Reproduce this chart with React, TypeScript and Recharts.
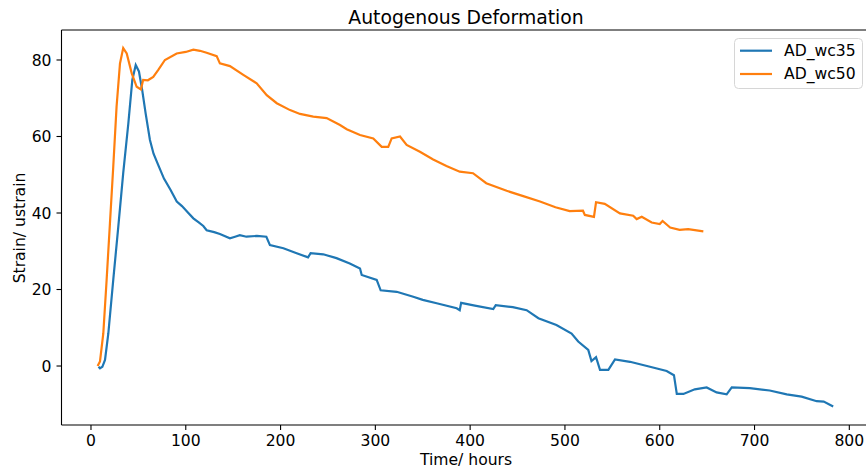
import { Legend, Line, LineChart, ReferenceLine, XAxis, YAxis } from "recharts";

const FONT = "DejaVu Sans, Verdana, sans-serif";
const BLUE = "#1f77b4";
const ORANGE = "#ff7f0e";

const xTicks = [0, 100, 200, 300, 400, 500, 600, 700, 800];
const yTicks = [0, 20, 40, 60, 80];

// w/c 0.35 mix
const wc35Hours = [
  8, 9.5, 12, 14.8, 18.3, 23.5, 28.8, 34, 39.4, 43.6, 47.2, 50.6, 54, 57.7, 62.2, 66, 71, 77,
  84, 90.5, 96, 102, 108, 114, 118.5, 122, 130, 136, 146.6, 152, 157, 164, 175, 185, 188.8,
  203, 217, 229, 231.7, 245, 259, 273, 283.8, 285.6, 301.4, 305.6, 322.5, 340, 350, 364.7,
  385.8, 389, 390.5, 405, 424.4, 427, 445, 459.6, 472, 491, 507, 514, 524.6, 528, 532.8, 537,
  545.8, 552.8, 568.6, 589.7, 607.3, 615, 618, 625, 637, 649.5, 660, 670.6, 676, 695, 716, 734,
  749.7, 765.6, 773, 783,
];
const wc35Strain = [
  -0.2, -0.6, -0.2, 1.6, 8.5, 22.5, 36.4, 50.4, 63.4, 74.8, 78.7, 77, 72.2, 66, 59.1, 55.5, 52.5,
  49, 46, 43, 41.8, 40.2, 38.6, 37.5, 36.6, 35.5, 35, 34.5, 33.4, 33.8, 34.2, 33.8, 34, 33.8,
  31.6, 30.8, 29.5, 28.4, 29.5, 29.2, 28.2, 26.8, 25.5, 23.8, 22.5, 19.8, 19.4, 18.1, 17.3, 16.4,
  15.1, 14.6, 16.5, 15.8, 14.9, 15.9, 15.4, 14.6, 12.5, 10.7, 8.5, 6.4, 4.2, 1.3, 2.3, -1, -1,
  1.7, 1.1, -0.2, -1.3, -2.4, -7.3, -7.3, -6.1, -5.6, -6.9, -7.4, -5.6, -5.8, -6.4, -7.4, -8,
  -9.2, -9.3, -10.6,
];

// w/c 0.50 mix
const wc50Hours = [
  7, 9.5, 13, 16.5, 20, 23.5, 27, 30.6, 34, 37.7, 43, 48.2, 52.7, 55, 60, 65.7, 71, 78, 90.4,
  100, 108, 115, 122, 132.6, 136, 146.6, 160.7, 174.8, 185.4, 196, 210, 220.5, 234.5, 248.6,
  262.7, 269.8, 283.8, 297.8, 306.7, 313.6, 317.2, 326, 333, 347, 361, 375, 389, 403, 417,
  438.5, 456, 473.7, 490, 505, 519, 521, 530.6, 532.8, 542, 558, 572, 575.7, 581, 591.5, 600,
  603, 611, 621, 630, 646,
];
const wc50Strain = [
  0, 1.2, 8.5, 22.5, 37.3, 52.1, 67.8, 79.1, 83.1, 81.7, 76.5, 73, 72.3, 74.8, 74.7, 75.6, 77.4,
  80, 81.7, 82.1, 82.7, 82.4, 81.9, 81, 79.1, 78.4, 76.1, 73.9, 70.8, 68.7, 66.9, 65.9, 65.2,
  64.8, 63, 61.9, 60.4, 59.5, 57.3, 57.3, 59.5, 60, 57.8, 56, 54, 52.3, 50.8, 50.4, 47.8, 45.8,
  44.4, 43, 41.5, 40.5, 40.6, 39.5, 39, 42.8, 42.4, 39.9, 39.3, 38.4, 39, 37.5, 37.1, 37.9, 36.2,
  35.6, 35.8, 35.2,
];

const toPoints = (xs: number[], ys: number[]) => xs.map((x, i) => ({ x, y: ys[i] }));
const wc35 = toPoints(wc35Hours, wc35Strain);
const wc50 = toPoints(wc50Hours, wc50Strain);

const X_DOMAIN: [number, number] = [-31.1, 817.6];
const Y_DOMAIN: [number, number] = [-15.42, 87.84];

const LABEL_SIZE = 15.6;
const tickStyle = { fill: "#000", fontSize: LABEL_SIZE, fontFamily: FONT };

function LegendBox() {
  const rows = [
    { name: "AD_wc35", color: BLUE },
    { name: "AD_wc50", color: ORANGE },
  ];
  return (
    <svg width={130} height={52} style={{ display: "block" }}>
      <rect x={0.5} y={0.5} width={128} height={50} rx={4} fill="#fff" stroke="#d6d6d6" />
      {rows.map((r, i) => (
        <g key={r.name}>
          <line x1={6} x2={38} y1={12.7 + i * 23.3} y2={12.7 + i * 23.3} stroke={r.color} strokeWidth={2.2} />
          <text x={50} y={17.8 + i * 23.3} fontSize={LABEL_SIZE} fontFamily={FONT} fill="#000">
            {r.name}
          </text>
        </g>
      ))}
    </svg>
  );
}

export default function App() {
  return (
    <div style={{ position: "absolute", left: 0, top: 0, fontFamily: FONT, background: "#fff" }}>
      <LineChart width={866} height={473} margin={{ top: 30, right: 0, bottom: 0, left: 0 }}>
        <XAxis
          type="number"
          dataKey="x"
          domain={X_DOMAIN}
          ticks={xTicks}
          allowDataOverflow
          height={48}
          stroke="#000"
          strokeWidth={1.1}
          tickSize={5}
          tickMargin={5}
          tick={tickStyle}
          label={{
            content: () => (
              <text x={466} y={465} textAnchor="middle" fontSize={LABEL_SIZE} fontFamily={FONT} fill="#000">
                Time/ hours
              </text>
            ),
          }}
        />
        <YAxis
          type="number"
          dataKey="y"
          domain={Y_DOMAIN}
          ticks={yTicks}
          allowDataOverflow
          width={61.5}
          stroke="#000"
          strokeWidth={1.1}
          tickSize={5}
          tickMargin={5}
          tick={tickStyle}
          label={{
            content: () => (
              <text
                x={25}
                y={228}
                transform="rotate(-90 25 228)"
                textAnchor="middle"
                fontSize={LABEL_SIZE}
                fontFamily={FONT}
                fill="#000"
              >
                Strain/ ustrain
              </text>
            ),
          }}
        />
        {/* top spine, carrying the chart title */}
        <ReferenceLine
          y={Y_DOMAIN[1]}
          stroke="#000"
          strokeWidth={1.1}
          ifOverflow="visible"
          label={{
            content: () => (
              <text x={466} y={24} textAnchor="middle" fontSize={18.8} fontFamily={FONT} fill="#000">
                Autogenous Deformation
              </text>
            ),
          }}
        />
        <Line
          data={wc35}
          dataKey="y"
          name="AD_wc35"
          type="linear"
          stroke={BLUE}
          strokeWidth={2.2}
          dot={false}
          isAnimationActive={false}
        />
        <Line
          data={wc50}
          dataKey="y"
          name="AD_wc50"
          type="linear"
          stroke={ORANGE}
          strokeWidth={2.2}
          dot={false}
          isAnimationActive={false}
        />
        <Legend
          layout="horizontal"
          verticalAlign="middle"
          align="center"
          content={() => <LegendBox />}
          wrapperStyle={{ top: 38, left: 734, width: 130, height: 52 }}
        />
      </LineChart>
    </div>
  );
}
